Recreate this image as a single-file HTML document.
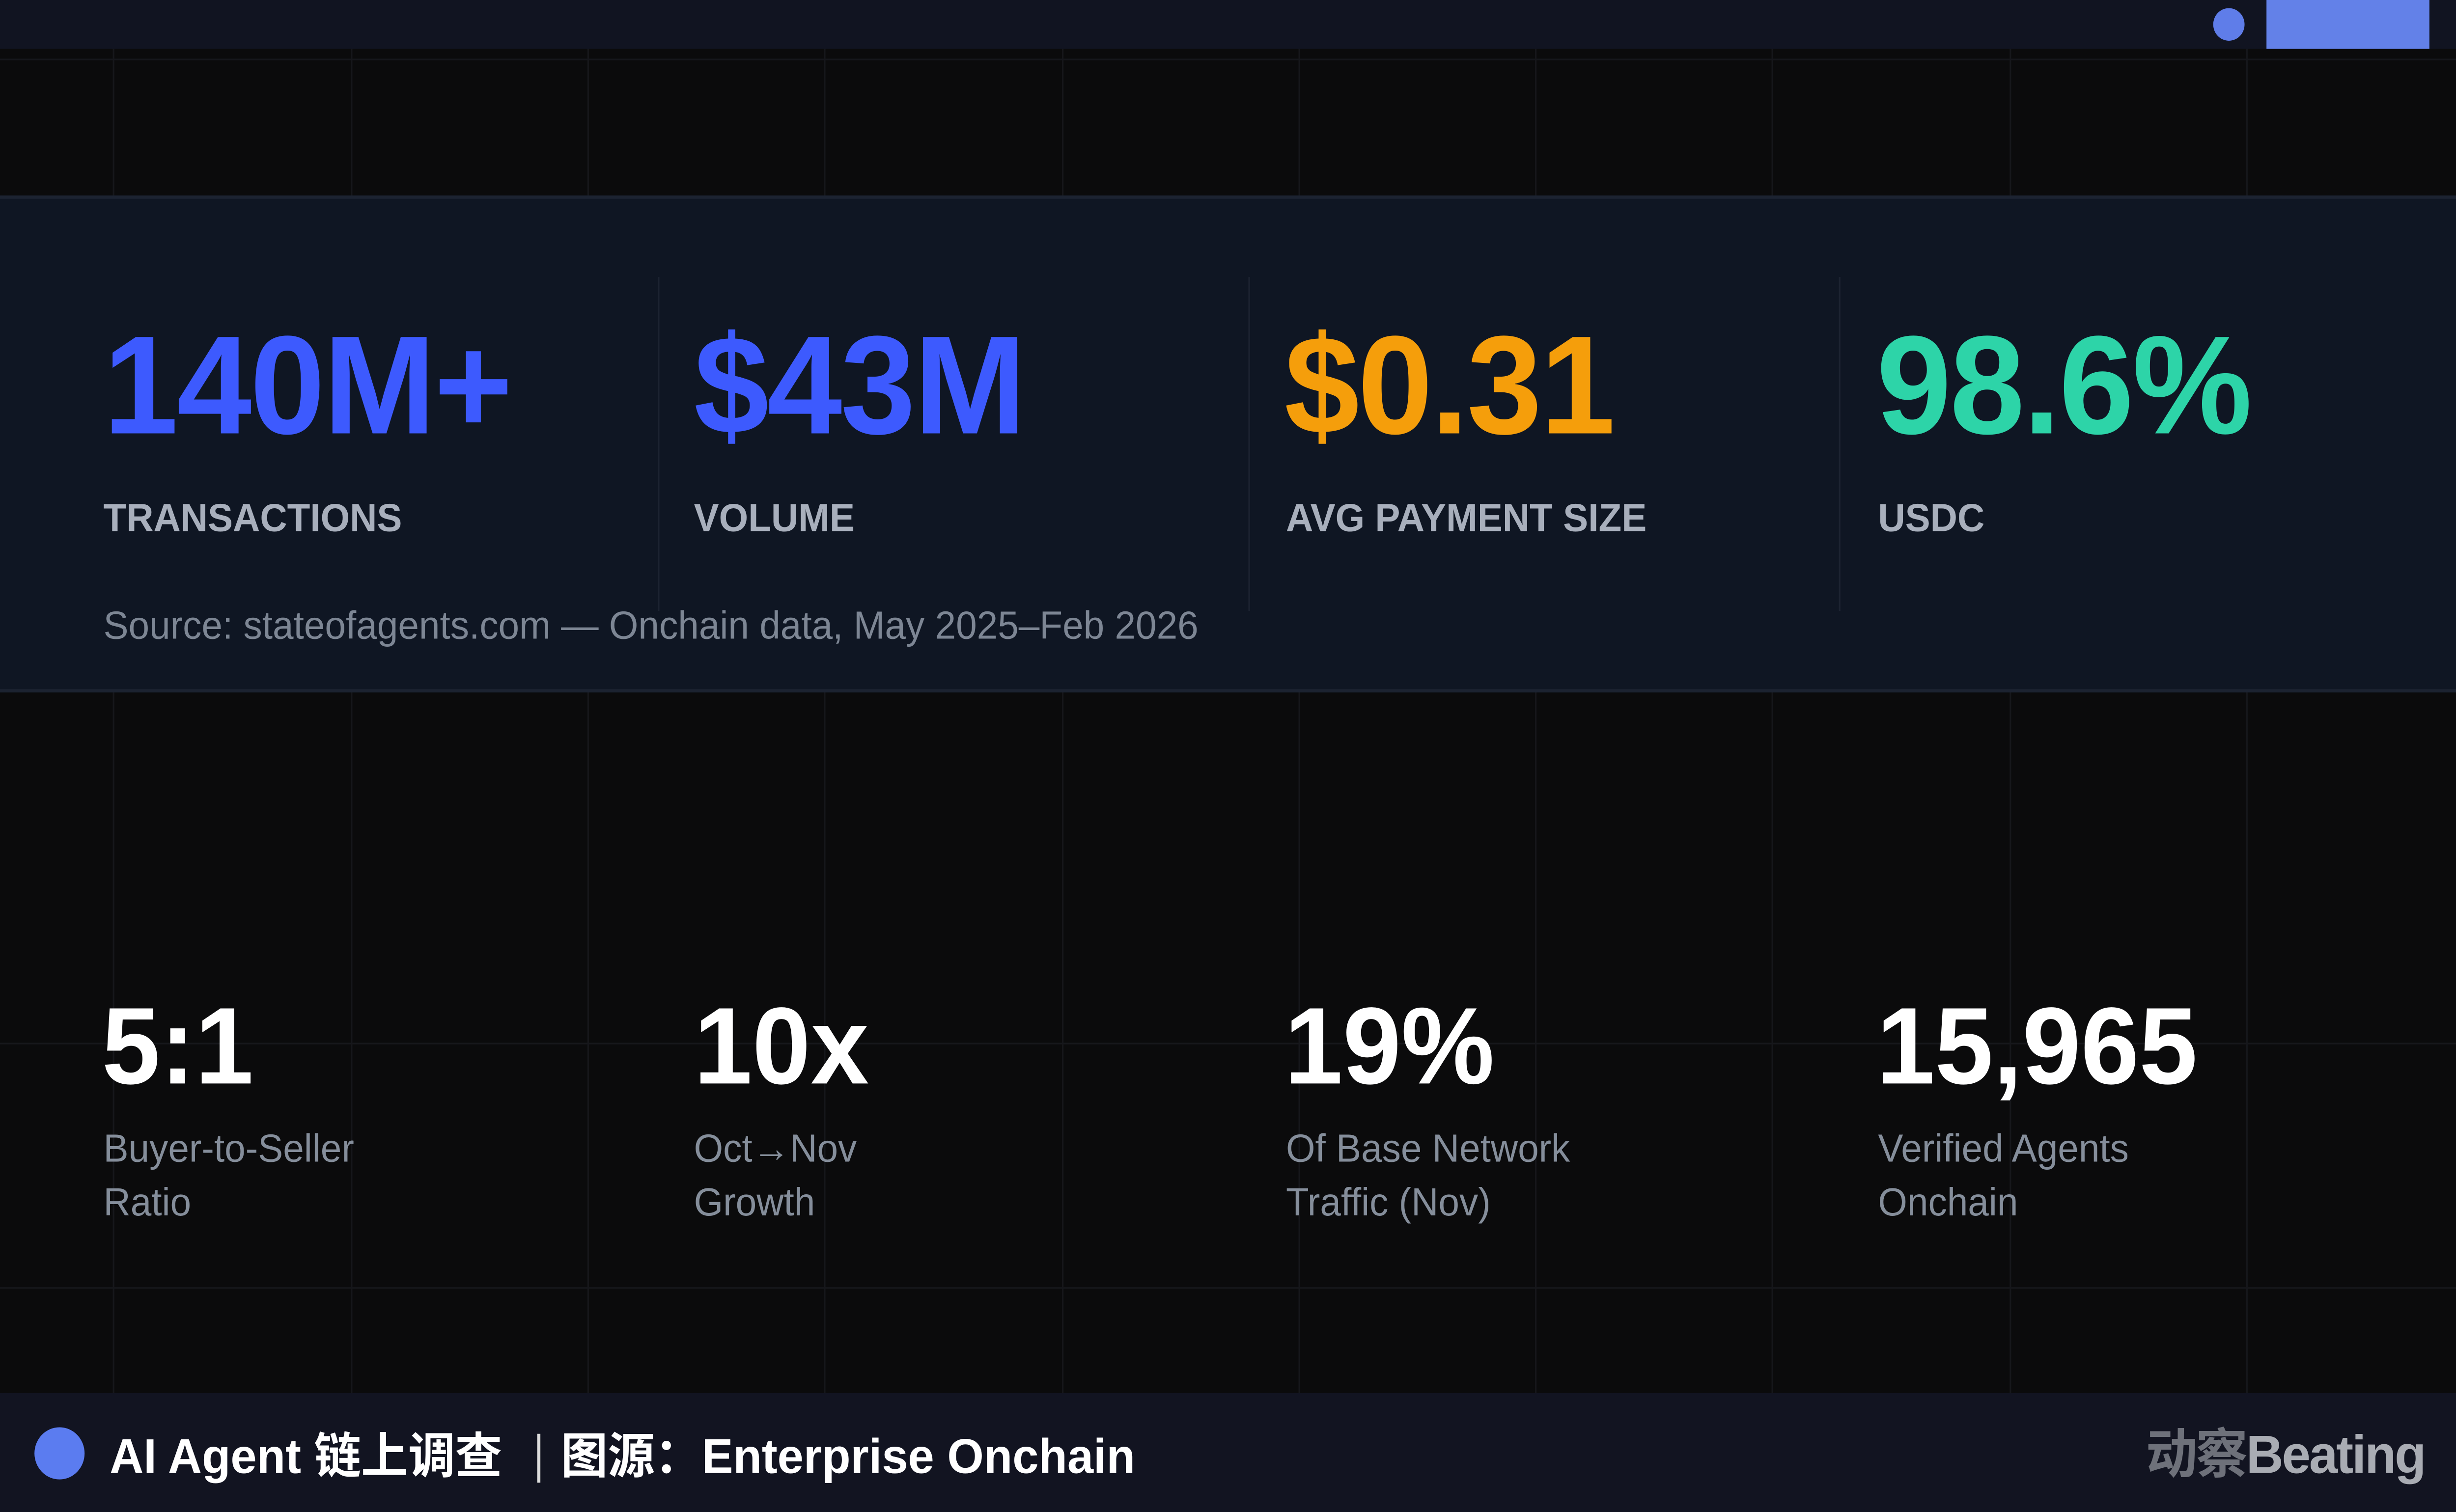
<!DOCTYPE html>
<html><head><meta charset="utf-8"><style>
html,body{margin:0;padding:0;background:#0b0b0c;overflow:hidden}
#w{position:absolute;left:0;top:0;width:1568px;height:928px;transform-origin:0 0;transform:scale(3.1888,3.3179);background:#0b0b0c;font-family:"Liberation Sans","Noto Sans CJK SC",sans-serif}
.a{position:absolute;white-space:nowrap}
.vl{position:absolute;top:30px;height:825px;width:1px;background:#16171b}
.hl{position:absolute;left:0;width:1568px;height:1px;background:#16171b}
.big{font-weight:bold;font-size:86px;line-height:1;letter-spacing:-1px}
.lab{font-weight:bold;font-size:24px;color:#a8afbc;line-height:1}
.num{font-weight:bold;font-size:67px;color:#fff;line-height:1}
.sub{font-size:24px;color:#858e9b;line-height:33px}
</style></head><body><div id="w">
<div class="a" style="left:0;top:0;width:1568px;height:30px;background:#111421"></div>
<div class="a" style="left:1413px;top:5px;width:20px;height:20px;border-radius:50%;background:#5f7de9"></div>
<div class="a" style="left:1447px;top:0;width:104px;height:30px;background:#6381e8"></div>
<div class="vl" style="left:72px"></div><div class="vl" style="left:224px"></div><div class="vl" style="left:375px"></div><div class="vl" style="left:526px"></div><div class="vl" style="left:678px"></div><div class="vl" style="left:829px"></div><div class="vl" style="left:980px"></div><div class="vl" style="left:1131px"></div><div class="vl" style="left:1283px"></div><div class="vl" style="left:1434px"></div>
<div class="hl" style="top:36px"></div><div class="hl" style="top:640px"></div><div class="hl" style="top:790px"></div>
<div class="a" style="left:0;top:120px;width:1568px;height:301px;background:#0f1623;border-top:2px solid #1c2331;border-bottom:2px solid #1c2331"></div>
<div class="a" style="left:420px;top:170px;width:1px;height:205px;background:#1c2331"></div>
<div class="a" style="left:797px;top:170px;width:1px;height:205px;background:#1c2331"></div>
<div class="a" style="left:1174px;top:170px;width:1px;height:205px;background:#1c2331"></div>
<div class="a big" style="left:66px;top:194px;color:#3d5afe">140M+</div>
<div class="a big" style="left:443px;top:194px;color:#3d5afe">$43M</div>
<div class="a big" style="left:820px;top:194px;color:#f59e0b">$0.31</div>
<div class="a big" style="left:1198px;top:194px;color:#2dd4a8">98.6%</div>
<div class="a lab" style="left:66px;top:307px">TRANSACTIONS</div>
<div class="a lab" style="left:443px;top:307px">VOLUME</div>
<div class="a lab" style="left:821px;top:307px">AVG PAYMENT SIZE</div>
<div class="a lab" style="left:1199px;top:307px">USDC</div>
<div class="a" style="left:66px;top:371px;font-size:24px;color:#7d8694">Source: stateofagents.com — Onchain data, May 2025–Feb 2026</div>
<div class="a num" style="left:65px;top:609px">5:1</div>
<div class="a num" style="left:443px;top:609px">10x</div>
<div class="a num" style="left:820px;top:609px">19%</div>
<div class="a num" style="left:1198px;top:609px">15,965</div>
<div class="a sub" style="left:66px;top:689px">Buyer-to-Seller<br>Ratio</div>
<div class="a sub" style="left:443px;top:689px">Oct→Nov<br>Growth</div>
<div class="a sub" style="left:821px;top:689px">Of Base Network<br>Traffic (Nov)</div>
<div class="a sub" style="left:1199px;top:689px">Verified Agents<br>Onchain</div>
<div class="a" style="left:0;top:855px;width:1568px;height:73px;background:#121421"></div>
<div class="a" style="left:22px;top:876px;width:32px;height:32px;border-radius:50%;background:#5b7cf0"></div>
<div class="a" style="left:70px;top:875px;font-size:30px;font-weight:bold;color:#fff;line-height:40px">AI Agent 链上调查</div>
<div class="a" style="left:343px;top:880px;width:2px;height:30px;background:#ddd"></div>
<div class="a" style="left:358px;top:875px;font-size:30px;font-weight:bold;color:#fff;line-height:40px">图源：Enterprise Onchain</div>
<div class="a" style="right:20px;top:871px;font-size:33px;font-weight:bold;color:#a9acb3;line-height:44px;letter-spacing:-1px"><span style="color:#6e717a">动察</span>Beating</div>
</div></body></html>
